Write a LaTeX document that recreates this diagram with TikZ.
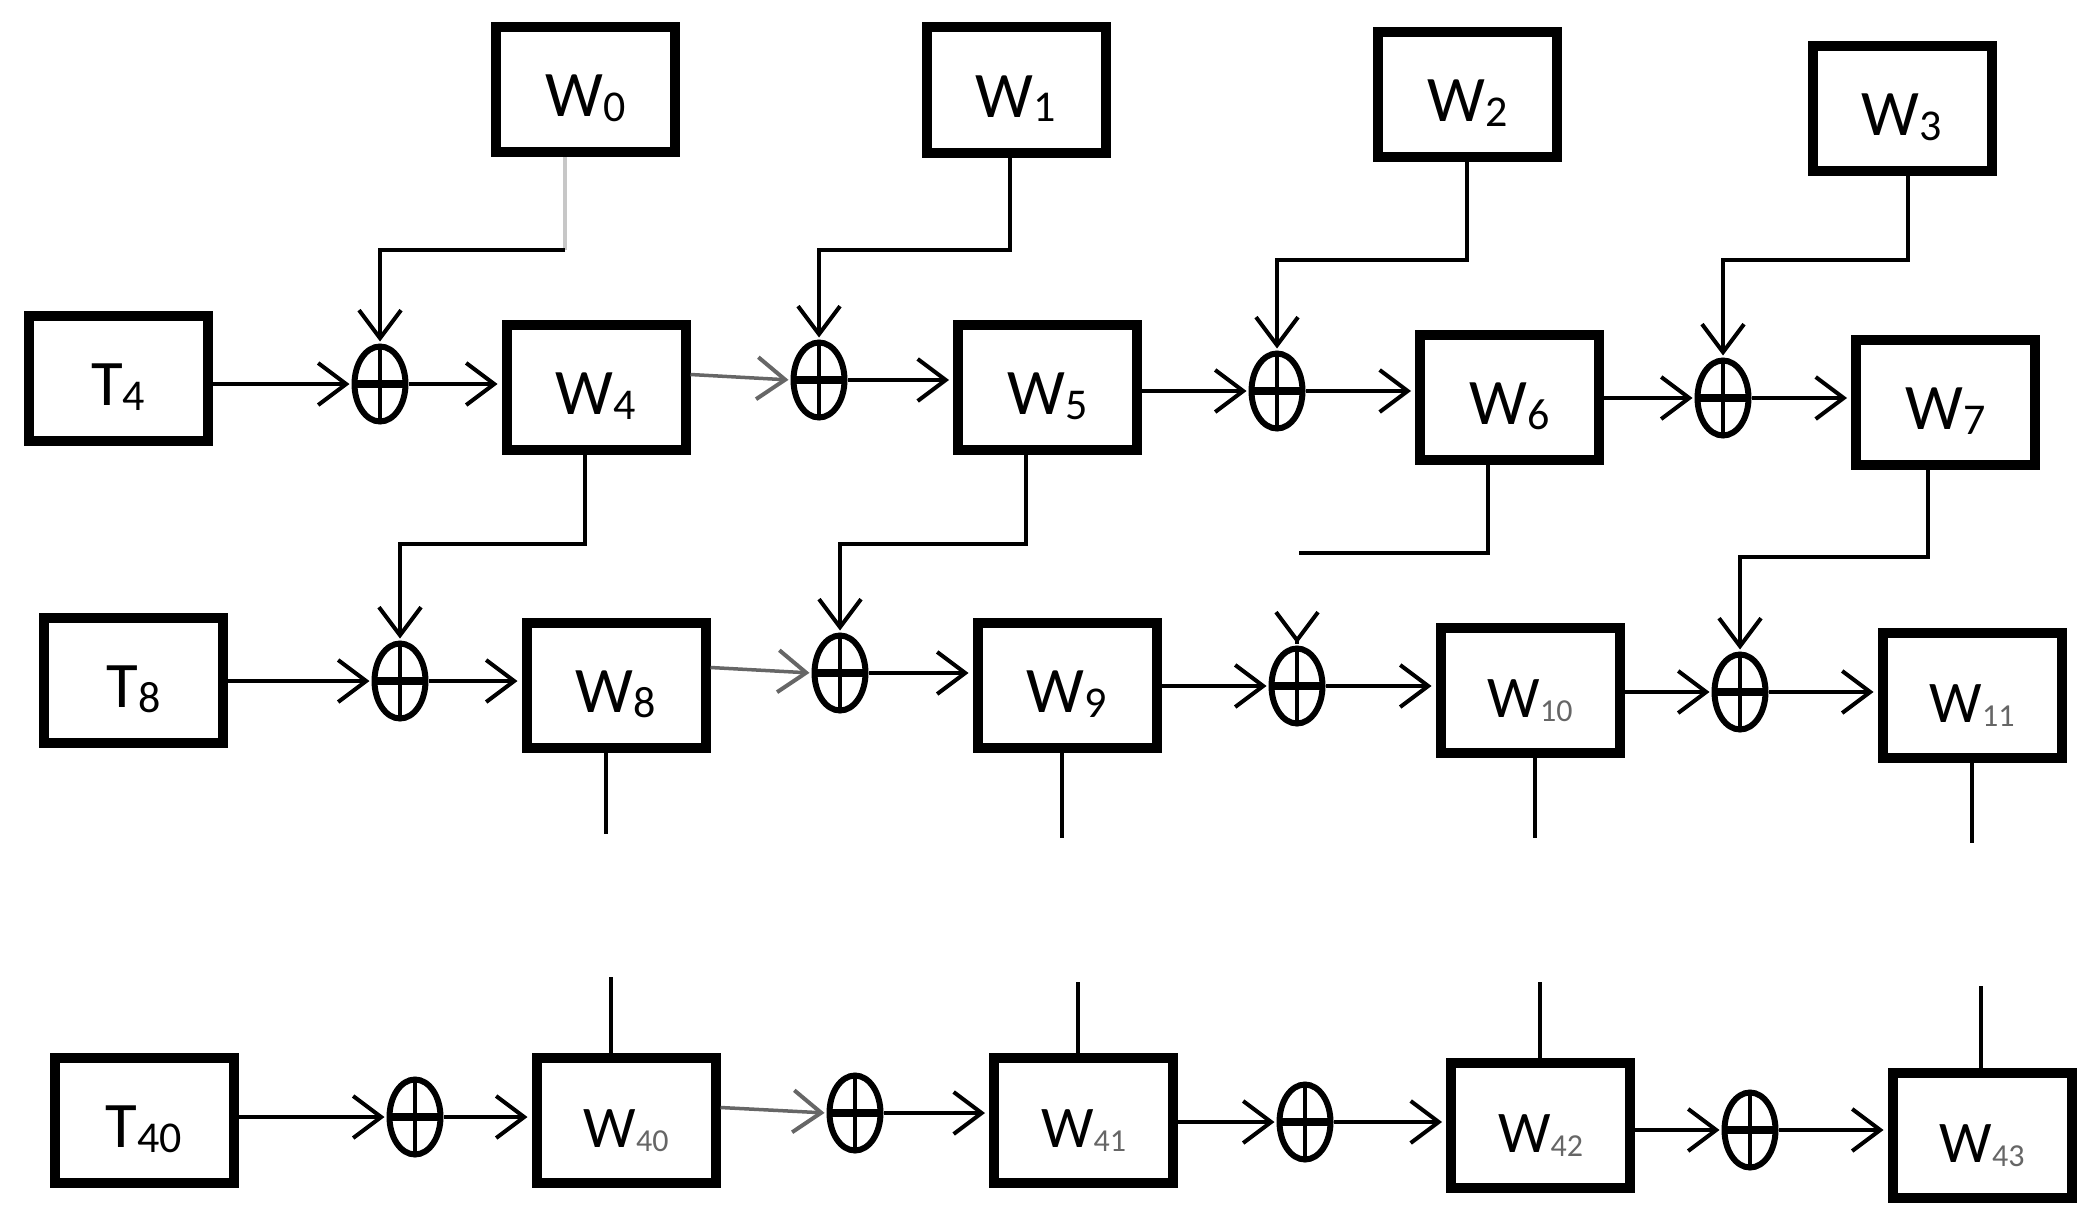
\documentclass[tikz,border=0pt]{standalone}
\usepackage{fontspec}
\setmainfont{Carlito}
\usetikzlibrary{arrows.meta,shapes.geometric}
\newcommand{\boxlab}[2]{#1\raisebox{-5pt}{\fontsize{44}{44}\selectfont #2}}
\newcommand{\boxlabsmall}[2]{{\fontsize{59}{59}\selectfont #1\raisebox{-4pt}{\fontsize{32}{32}\selectfont\color{black!60}#2}}}
\begin{document}
\begin{tikzpicture}[x=1pt,y=-1pt,
  blk/.style={draw, line width=10pt, minimum width=179pt, minimum height=125pt,
    inner sep=0pt, font=\fontsize{65}{65}\selectfont, text height=54pt, text depth=0pt},
  xo/.style={draw, ellipse, line width=6pt, minimum width=51pt, minimum height=75pt,
    inner sep=0pt,
    path picture={
      \draw[line width=8pt] (path picture bounding box.west) -- (path picture bounding box.east);
      \draw[line width=4pt] (path picture bounding box.north) -- (path picture bounding box.south);}},
  ln/.style={line width=3.5pt},
  arr/.style={line width=3.5pt, -{Straight Barb[length=28pt, width=42pt, line width=4pt]}, shorten >=2pt},
  arrbox/.style={arr, shorten >=4pt},
  faint/.style={line width=3.5pt, black!22},
  slant/.style={arr, black!60}]
\useasboundingbox (0,0) rectangle (2099,1223);

% ---- top inputs
\node[blk] (W0) at (585.5,89.5) {\boxlab{W}{0}};
\node[blk] (W1) at (1016,90) {\boxlab{W}{1}};
\node[blk] (W2) at (1467.5,94.5) {\boxlab{W}{2}};
\node[blk] (W3) at (1902,108.5) {\boxlab{W}{3}};

% ---- row 1
\node[blk] (T4) at (118,378) {\boxlab{T}{4}};
\node[blk] (W4) at (596,387.5) {\boxlab{W}{4}};
\node[blk] (W5) at (1047.5,387.5) {\boxlab{W}{5}};
\node[blk] (W6) at (1509.5,397) {\boxlab{W}{6}};
\node[blk] (W7) at (1945.5,402) {\boxlab{W}{7}};
\node[xo] (e1) at (380,384) {};
\node[xo] (e2) at (819,380) {};
\node[xo] (e3) at (1277,391) {};
\node[xo] (e4) at (1723,398) {};

% ---- row 2
\node[blk] (T8) at (133.5,680.5) {\boxlab{T}{8}};
\node[blk] (W8) at (616,685.5) {\boxlab{W}{8}};
\node[blk] (W9) at (1067,685.5) {\boxlab{W}{9}};
\node[blk] (W10) at (1530,690) {\boxlabsmall{W}{10}};
\node[blk] (W11) at (1972,695) {\boxlabsmall{W}{11}};
\node[xo] (e5) at (400,681) {};
\node[xo] (e6) at (840,673) {};
\node[xo] (e7) at (1297,686) {};
\node[xo] (e8) at (1740,692) {};

% ---- row 3
\node[blk] (T40) at (144,1120.5) {\boxlab{T}{40}};
\node[blk] (W40) at (626,1120.5) {\boxlabsmall{W}{40}};
\node[blk] (W41) at (1083.5,1120.5) {\boxlabsmall{W}{41}};
\node[blk] (W42) at (1540.5,1125.5) {\boxlabsmall{W}{42}};
\node[blk] (W43) at (1982,1135) {\boxlabsmall{W}{43}};
\node[xo] (e9) at (415,1117) {};
\node[xo] (e10) at (855,1113) {};
\node[xo] (e11) at (1305,1122) {};
\node[xo] (e12) at (1750,1130) {};

% ---- corner coordinates
\coordinate (c0) at (565,250);
\coordinate (c1) at (1010,250);
\coordinate (c2) at (1467,260);
\coordinate (c3) at (1908,260);
\coordinate (c4) at (585,544);
\coordinate (c5) at (1026,544);
\coordinate (c6) at (1488,553);
\coordinate (d6) at (1299,553);
\coordinate (c7) at (1928,557);
\coordinate (s8) at (606,834);
\coordinate (s9) at (1062,838);
\coordinate (s10) at (1535,838);
\coordinate (s11) at (1972,843);
\coordinate (s40) at (611,977);
\coordinate (s41) at (1078,982);
\coordinate (s42) at (1540,982);
\coordinate (s43) at (1981,986);

% ---- key inputs into row 1
\draw[faint] (W0.south -| c0) -- (c0);
\draw[arr] (c0) -| (e1.north);
\draw[arr] (W1.south -| c1) -- (c1) -| (e2.north);
\draw[arr] (W2.south -| c2) -- (c2) -| (e3.north);
\draw[arr] (W3.south -| c3) -- (c3) -| (e4.north);

% ---- row 1 chain
\draw[arr] (T4.east |- e1) -- (e1.west);
\draw[arrbox] (e1.east) -- (W4.west |- e1);
\draw[slant] ([yshift=13pt]W4.east) -- (e2.west);
\draw[arrbox] (e2.east) -- (W5.west |- e2);
\draw[arr] (W5.east |- e3) -- (e3.west);
\draw[arrbox] (e3.east) -- (W6.west |- e3);
\draw[arr] (W6.east |- e4) -- (e4.west);
\draw[arrbox] (e4.east) -- (W7.west |- e4);

% ---- row 1 into row 2
\draw[arr] (W4.south -| c4) -- (c4) -| (e5.north);
\draw[arr] (W5.south -| c5) -- (c5) -| (e6.north);
\draw[ln] (W6.south -| c6) -- (c6) -- (d6);
\draw[arr] ([yshift=2pt]e7.north) -- (e7.north);
\draw[arr] (W7.south -| c7) -- (c7) -| (e8.north);

% ---- row 2 chain
\draw[arr] (T8.east |- e5) -- (e5.west);
\draw[arrbox] (e5.east) -- (W8.west |- e5);
\draw[slant] ([yshift=18pt]W8.east) -- (e6.west);
\draw[arrbox] (e6.east) -- (W9.west |- e6);
\draw[arr] (W9.east |- e7) -- (e7.west);
\draw[arrbox] (e7.east) -- (W10.west |- e7);
\draw[arr] (W10.east |- e8) -- (e8.west);
\draw[arrbox] (e8.east) -- (W11.west |- e8);

% ---- stubs
\draw[ln] (W8.south -| s8) -- (s8);
\draw[ln] (W9.south -| s9) -- (s9);
\draw[ln] (W10.south -| s10) -- (s10);
\draw[ln] (W11.south -| s11) -- (s11);
\draw[ln] (s40) -- (W40.north -| s40);
\draw[ln] (s41) -- (W41.north -| s41);
\draw[ln] (s42) -- (W42.north -| s42);
\draw[ln] (s43) -- (W43.north -| s43);

% ---- row 3 chain
\draw[arr] (T40.east |- e9) -- (e9.west);
\draw[arrbox] (e9.east) -- (W40.west |- e9);
\draw[slant] ([yshift=13pt]W40.east) -- (e10.west);
\draw[arrbox] (e10.east) -- (W41.west |- e10);
\draw[arr] (W41.east |- e11) -- (e11.west);
\draw[arrbox] (e11.east) -- (W42.west |- e11);
\draw[arr] (W42.east |- e12) -- (e12.west);
\draw[arrbox] (e12.east) -- (W43.west |- e12);
\end{tikzpicture}
\end{document}
